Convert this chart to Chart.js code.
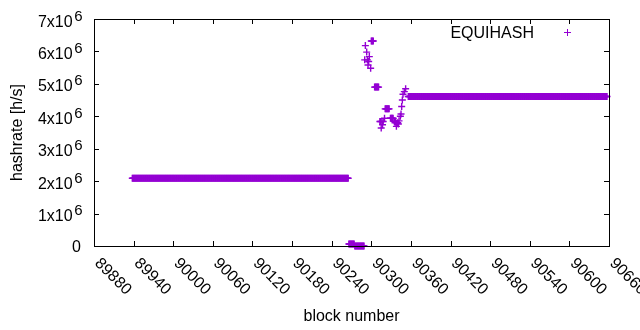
<!DOCTYPE html>
<html>
<head>
<meta charset="utf-8">
<script src="https://cdn.jsdelivr.net/npm/chart.js@4"></script>
<style>
  html, body { margin: 0; padding: 0; background: #fff; }
</style>
</head>
<body>
<canvas id="hashChart" width="640" height="330"></canvas>
<script>
// flat stretches of the series (every block from start to end has the same value)
const runStart = [89938, 90266, 90275, 90300, 90305, 90321, 90329, 90356];
const runEnd   = [90265, 90274, 90289, 90303, 90311, 90327, 90333, 90657];
const runValue = [2.09e6, 60000, 0, 6.32e6, 4.90e6, 4.23e6, 3.94e6, 4.61e6];

// single blocks around the jump
const spikeBlocks = [90290, 90291, 90293, 90294, 90295, 90296, 90297, 90299,
  90313, 90314, 90315, 90316, 90317, 90318, 90320,
  90335, 90336, 90337, 90338, 90339, 90340, 90341, 90342,
  90344, 90345, 90346, 90347, 90348, 90350, 90352];
const spikeValues = [5.74e6, 6.18e6, 5.98e6, 5.74e6, 5.58e6, 5.69e6, 5.84e6, 5.48e6,
  3.84e6, 3.84e6, 3.64e6, 3.84e6, 3.74e6, 3.84e6, 3.94e6,
  3.84e6, 3.80e6, 3.84e6, 3.69e6, 3.78e6, 3.80e6, 3.76e6, 3.86e6,
  4.00e6, 4.07e6, 4.30e6, 4.50e6, 4.68e6, 4.76e6, 4.85e6];

const seriesLabel = "EQUIHASH";
const xTitle = "block number";
const yTitle = "hashrate [h/s]";

const FONT = '"Liberation Sans", Arial, sans-serif';
const PURPLE = "#9400d3";

const points = [];
runStart.forEach((s, i) => {
  for (let b = s; b <= runEnd[i]; b++) points.push({ x: b, y: runValue[i] });
});
spikeBlocks.forEach((b, i) => points.push({ x: b, y: spikeValues[i] }));

// gnuplot look: border, inward mirrored ticks, rotated x labels, 10^6 labels, key
const gnuplotFrame = {
  id: "gnuplotFrame",
  afterDraw(chart) {
    const { ctx, chartArea: a, scales: { x, y } } = chart;
    ctx.save();
    ctx.strokeStyle = "#000";
    ctx.fillStyle = "#000";
    ctx.lineWidth = 1;
    ctx.strokeRect(a.left + 0.5, a.top + 0.5, a.right - a.left, a.bottom - a.top);

    ctx.beginPath();
    x.ticks.forEach(t => {
      const px = Math.round(x.getPixelForValue(t.value)) + 0.5;
      ctx.moveTo(px, a.bottom); ctx.lineTo(px, a.bottom - 5);
      ctx.moveTo(px, a.top); ctx.lineTo(px, a.top + 5);
    });
    y.ticks.forEach(t => {
      const py = Math.round(y.getPixelForValue(t.value)) + 0.5;
      ctx.moveTo(a.left, py); ctx.lineTo(a.left + 5, py);
      ctx.moveTo(a.right, py); ctx.lineTo(a.right - 5, py);
    });
    ctx.stroke();

    // x tick labels, rotated down to the right
    ctx.font = "16px " + FONT;
    ctx.textAlign = "left";
    ctx.textBaseline = "alphabetic";
    x.ticks.forEach(t => {
      const px = x.getPixelForValue(t.value);
      ctx.save();
      ctx.translate(px, 264);
      ctx.rotate(Math.PI / 4);
      ctx.fillText(String(t.value), 0, 0);
      ctx.restore();
    });

    // y tick labels as Nx10^6
    const rightX = a.left - 11.5;
    y.ticks.forEach(t => {
      const py = y.getPixelForValue(t.value);
      if (t.value === 0) {
        ctx.font = "16px " + FONT;
        ctx.textAlign = "right";
        ctx.fillText("0", rightX - 1.5, py + 5.5);
        return;
      }
      ctx.font = "15px " + FONT;
      const ws = ctx.measureText("6").width;
      ctx.textAlign = "left";
      ctx.fillText("6", rightX - ws, py + 1.5);
      ctx.font = "16px " + FONT;
      ctx.textAlign = "right";
      ctx.fillText((t.value / 1e6) + "x10", rightX - ws - 1.5, py + 7.5);
    });

    // axis titles
    ctx.font = "16px " + FONT;
    ctx.textAlign = "center";
    ctx.fillText(xTitle, (a.left + a.right) / 2, 321);
    ctx.save();
    ctx.translate(22, (a.top + a.bottom) / 2);
    ctx.rotate(-Math.PI / 2);
    ctx.fillText(yTitle, 0, 0);
    ctx.restore();

    // key
    ctx.textAlign = "right";
    ctx.fillText(seriesLabel, 534, 37.5);
    ctx.strokeStyle = PURPLE;
    ctx.beginPath();
    ctx.moveTo(564, 32.5); ctx.lineTo(571, 32.5);
    ctx.moveTo(567.5, 29); ctx.lineTo(567.5, 36);
    ctx.stroke();
    ctx.restore();
  }
};

new Chart(document.getElementById("hashChart"), {
  type: "scatter",
  data: {
    datasets: [{
      label: seriesLabel,
      data: points,
      pointStyle: "cross",
      pointRadius: 3.5,
      pointHoverRadius: 3.5,
      borderWidth: 1.4,
      borderColor: PURPLE,
      backgroundColor: PURPLE,
      showLine: false,
      clip: false,
    }],
  },
  options: {
    responsive: false,
    animation: false,
    events: [],
    layout: { padding: { left: 94, top: 19, right: 31, bottom: 84 } },
    plugins: {
      legend: { display: false },
      tooltip: { enabled: false },
    },
    scales: {
      x: {
        type: "linear",
        min: 89880,
        max: 90660,
        ticks: { stepSize: 60, display: false },
        grid: { display: false },
        border: { display: false },
        afterFit(s) { s.height = 0; },
      },
      y: {
        min: 0,
        max: 7e6,
        ticks: { stepSize: 1e6, display: false },
        grid: { display: false },
        border: { display: false },
        afterFit(s) { s.width = 0; },
      },
    },
  },
  plugins: [gnuplotFrame],
});
</script>
</body>
</html>
